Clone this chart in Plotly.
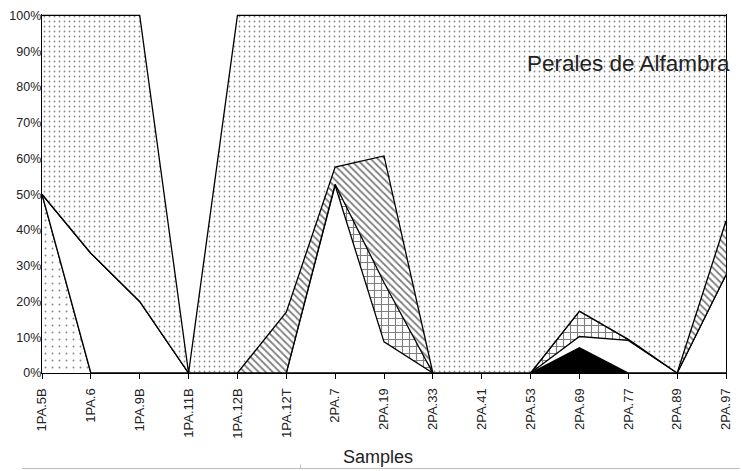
import plotly.graph_objects as go

samples = ["1PA.5B", "1PA.6", "1PA.9B", "1PA.11B", "1PA.12B", "1PA.12T", "2PA.7",
           "2PA.19", "2PA.33", "2PA.41", "2PA.53", "2PA.69", "2PA.77", "2PA.89", "2PA.97"]

# stacked components (percent), bottom to top
sparse_dots = [50, 0, 0, 0, 0, 0, 0, 0, 0, 0, 0, 0, 0, 0, 0]
solid_black = [0, 0, 0, 0, 0, 0, 0, 0, 0, 0, 0, 7.1, 0, 0, 0]
blank = [0, 33.5, 20, 0, 0, 0, 52.5, 8.7, 0, 0, 0, 3.1, 9.1, 0, 27.5]
brick = [0, 0, 0, 0, 0, 0, 0.3, 16.6, 0, 0, 0, 7.1, 0.3, 0, 0]
hatched = [0, 0, 0, 0, 0, 17, 4.8, 35.4, 0, 0, 0, 0, 0, 0, 15]
dense_dots = [50, 66.5, 80, 0, 100, 83, 42.4, 39.3, 100, 100, 100, 82.7, 90.6, 100, 57.5]

y_ticks = [0, 10, 20, 30, 40, 50, 60, 70, 80, 90, 100]
y_labels = [f"{v}%" for v in y_ticks]

FONT = "Liberation Sans, Arial, sans-serif"
LINE = dict(color="black", width=1.3)

fig = go.Figure()

def add_layer(vals, name, fillcolor="white", pattern=None):
    kw = dict(x=samples, y=vals, name=name, mode="lines", stackgroup="one",
              line=LINE, fillcolor=fillcolor, hoverinfo="skip")
    if pattern is not None:
        kw["fillpattern"] = pattern
    fig.add_trace(go.Scatter(**kw))

add_layer(sparse_dots, "sparse", pattern=dict(shape=".", fgcolor="#111", bgcolor="white",
                                               size=7, solidity=0.06))
add_layer(solid_black, "black", fillcolor="black")
add_layer(blank, "blank", fillcolor="white")
add_layer(brick, "brick", pattern=dict(shape="+", fgcolor="#000", bgcolor="white",
                                       size=7, solidity=0.3))
add_layer(hatched, "hatched", pattern=dict(shape="\\", fgcolor="#000", bgcolor="white",
                                           size=5, solidity=0.35))
add_layer(dense_dots, "dense", pattern=dict(shape=".", fgcolor="#111", bgcolor="white",
                                            size=5, solidity=0.1))

fig.update_layout(
    width=742, height=471,
    margin=dict(l=40, r=9, t=11, b=98),
    paper_bgcolor="white", plot_bgcolor="white",
    showlegend=False,
    font=dict(family=FONT, color="#222"),
    xaxis=dict(
        type="category", range=[0, len(samples) - 1],
        showline=True, linecolor="black", linewidth=1.3,
        ticks="outside", ticklen=5, tickcolor="black", tickwidth=1,
        tickangle=-90, tickfont=dict(size=13, family=FONT, color="#222"),
        ticklabelstandoff=4,
        showgrid=False, zeroline=False,
    ),
    yaxis=dict(
        range=[0, 100.4], tickvals=y_ticks, ticktext=y_labels,
        showline=True, mirror=True, linecolor="black", linewidth=1.3,
        ticks="", tickfont=dict(size=12.5, family=FONT, color="#222"),
        ticklabelstandoff=-3,
        showgrid=False, zeroline=False,
    ),
    annotations=[
        dict(text="Perales de Alfambra", xref="paper", yref="paper", x=0.857, y=0.861,
             xanchor="center", yanchor="middle", showarrow=False,
             font=dict(size=22.5, family=FONT, color="#222")),
        dict(text="Samples", xref="paper", yref="paper", x=0.4906, y=-0.233,
             xanchor="center", yanchor="middle", showarrow=False,
             font=dict(size=18, family=FONT, color="#222")),
    ],
    shapes=[
        dict(type="line", xref="paper", yref="paper", x0=-0.029, x1=1.02, y0=-0.266, y1=-0.266,
             line=dict(color="#bbbbbb", width=1)),
        dict(type="line", xref="paper", yref="paper", x0=0.378, x1=0.378, y0=-0.266, y1=-0.255,
             line=dict(color="#bbbbbb", width=1)),
    ],
)

fig.write_html("out.html")
